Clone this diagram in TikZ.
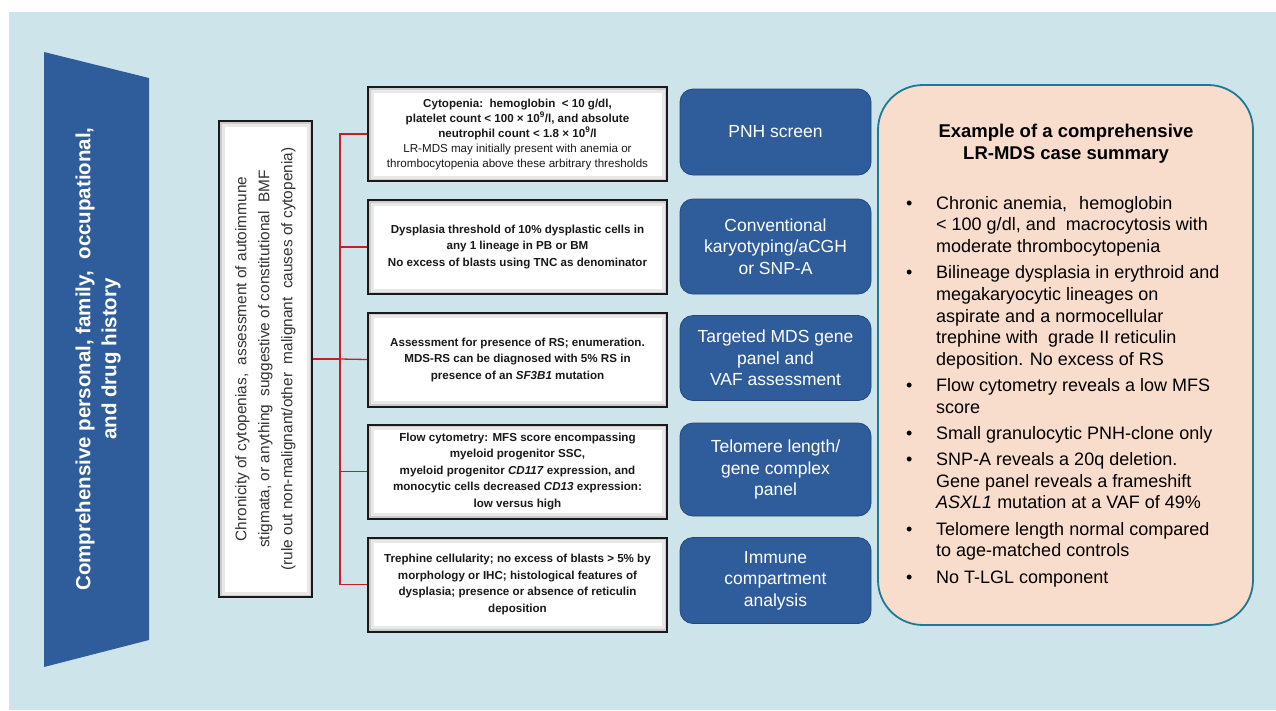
\documentclass[tikz,border=0pt]{standalone}
\usepackage{fontspec}
\setmainfont{Liberation Sans}
\definecolor{bgblue}{RGB}{205,228,234}
\definecolor{dblue}{RGB}{47,93,155}
\definecolor{dblueedge}{RGB}{36,72,122}
\definecolor{peach}{RGB}{249,221,204}
\definecolor{teal}{RGB}{28,122,148}
\definecolor{cred}{RGB}{196,30,40}
\tikzset{
  wbox/.style={draw=black!90, line width=2pt, fill=gray!40, inner sep=0pt,
    minimum width=299pt, minimum height=94pt, align=center, text=black!90,
    font=\fontsize{11.6}{16.5}\selectfont\bfseries,
    path picture={
      \fill[gray!18] ([shift={(2.5pt,2.5pt)}]path picture bounding box.south west) rectangle ([shift={(-2.5pt,-2.5pt)}]path picture bounding box.north east);
      \fill[white] ([shift={(5.5pt,5.5pt)}]path picture bounding box.south west) rectangle ([shift={(-5.5pt,-5.5pt)}]path picture bounding box.north east);
    }},
  bbox/.style={draw=dblueedge, line width=0.8pt, fill=dblue, rounded corners=13pt,
    minimum width=191pt, inner sep=0pt, align=center, text=white,
    font=\fontsize{17.5}{21.5}\selectfont},
  link/.style={draw=cred, line width=1.3pt},
}
\begin{document}
\begin{tikzpicture}[x=1pt,y=-1pt]
\useasboundingbox (0,0) rectangle (1276,710);
\fill[bgblue] (9,12) rectangle (1276,710);

% left trapezoid
\fill[dblue] (44,52) -- (149,78) -- (149,640) -- (44,667) -- cycle;
\node[rotate=90, align=center, text=white, font=\fontsize{20.5}{26}\selectfont\bfseries] (hist) at (98,359)
  {Comprehensive personal, family,\ \ occupational,\\and drug history};

% vertical box
\node[wbox, minimum width=93pt, minimum height=476pt] (vbox) at (265.5,359) {};
\node[rotate=90, align=center, text=black!80, font=\fontsize{15.4}{23}\selectfont] (vtext) at (vbox.center)
  {Chronicity of cytopenias,\ \ assessment of autoimmune\\stigmata, or anything\ \ suggestive of constitutional\ \ BMF\\(rule out non-malignant/other\ \ malignant\ \ causes of cytopenia)};

% white boxes
\node[wbox, font=\fontsize{11.6}{15}\selectfont\bfseries] (wb1) at (517.5,134)
  {Cytopenia:\ \ hemoglobin\ \ < 10 g/dl,\\platelet count < 100 × 10\textsuperscript{9}/l, and absolute\\neutrophil\ count < 1.8 × 10\textsuperscript{9}/l\\{\mdseries LR-MDS may initially present with anemia or}\\{\mdseries thrombocytopenia above these arbitrary thresholds}};
\node[wbox] (wb2) at (517.5,247)
  {Dysplasia threshold of 10\% dysplastic cells in\\any 1 lineage in PB or BM\\No excess of blasts using\ TNC\ as denominator};
\node[wbox] (wb3) at (517.5,359.5)
  {Assessment for presence of RS; enumeration.\\MDS-RS\ can be diagnosed with 5\% RS in\\presence of an \textit{SF3B1} mutation};
\node[wbox] (wb4) at (517.5,471.5)
  {Flow\ cytometry: MFS\ score encompassing\\myeloid\ progenitor SSC,\\myeloid progenitor \textit{CD117} expression, and\\monocytic cells decreased \textit{CD13} expression:\\low versus high};
\node[wbox] (wb5) at (517.5,584.5)
  {Trephine cellularity; no excess of blasts > 5\% by\\morphology\ or IHC; histological\ features of\\dysplasia;\ presence or absence of reticulin\\deposition};

% connectors
\coordinate (hub) at (340,359);
\draw[link] (vbox.east) -- (hub);
\draw[link] (hub) |- (wb1.west);
\draw[link] (hub) |- (wb2.west);
\draw[link] (hub) -- (wb3.west);
\draw[link] (hub) |- (wb4.west);
\draw[link] (hub) |- (wb5.west);

% blue boxes
\node[bbox, minimum height=86pt] (b1) at (775.5,132) {PNH screen};
\node[bbox, minimum height=95pt] (b2) at (775.5,246.5) {Conventional\\karyotyping/aCGH\\or SNP-A};
\node[bbox, minimum height=85pt] (b3) at (775.5,358) {Targeted MDS gene\\panel and\\VAF assessment};
\node[bbox, minimum height=93pt] (b4) at (775.5,469.5) {Telomere length/\\gene complex\\panel};
\node[bbox, minimum height=86pt] (b5) at (775.5,580.5) {Immune\\compartment\\analysis};

% summary panel
\node[draw=teal, line width=1.8pt, fill=peach, rounded corners=45pt,
  minimum width=375pt, minimum height=540pt, inner sep=0pt] (sumbox) at (1065.5,355) {};
\node[align=center, font=\fontsize{18.5}{22}\selectfont\bfseries] (sumtitle) at (1066,144)
  {Example of a comprehensive\\LR-MDS case summary};
\node[anchor=north west, inner sep=0pt, align=left, font=\fontsize{18}{21.6}\selectfont] (sumlist) at (906,194)
  {\begin{tabular}{@{}p{30pt}@{}l@{}}
  \textbullet & Chronic anemia,\hspace{12pt}hemoglobin\\
   & < 100 g/dl, and\ \ macrocytosis with\\
   & moderate thrombocytopenia\\[4.7pt]
  \textbullet & Bilineage dysplasia in erythroid and\\
   & megakaryocytic lineages on\\
   & aspirate and a\ normocellular\\
   & trephine with\ \ grade II reticulin\\
   & deposition. No excess of RS\\[4.7pt]
  \textbullet & Flow cytometry reveals a\ low MFS\\
   & score\\[4.7pt]
  \textbullet & Small granulocytic PNH-clone only\\[4.7pt]
  \textbullet & SNP-A reveals a\ 20q deletion.\\
   & Gene panel reveals a\ frameshift\\
   & \textit{ASXL1} mutation at a VAF of 49\%\\[4.7pt]
  \textbullet & Telomere length normal compared\\
   & to age-matched controls\\[4.7pt]
  \textbullet & No T-LGL component
  \end{tabular}};
\end{tikzpicture}
\end{document}
